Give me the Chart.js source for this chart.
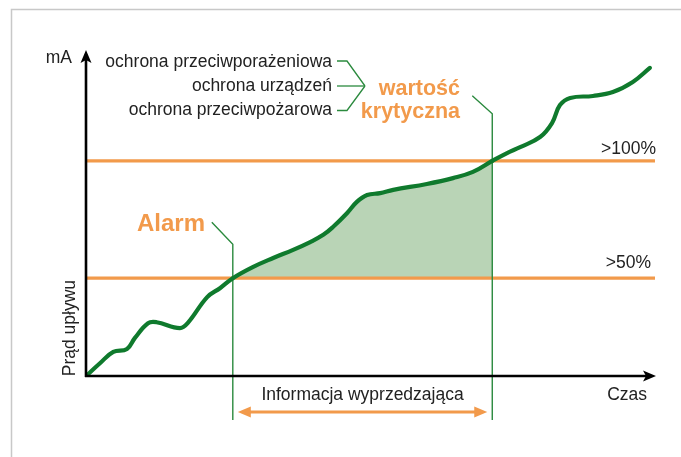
<!DOCTYPE html>
<html lang="pl">
<head>
<meta charset="utf-8">
<title>Prąd upływu</title>
<script src="https://cdn.jsdelivr.net/npm/chart.js@4/dist/chart.umd.min.js"></script>
<style>
  html, body { margin: 0; padding: 0; background: #ffffff; }
  #wrap { width: 681px; height: 457px; position: relative; }
</style>
</head>
<body>
<div id="wrap"><canvas id="chart" width="681" height="457"></canvas></div>
<script>
// Leakage current over time (arbitrary units: time 0–100, current 0–100)
const timeX = [0, 2.5, 4.8, 7.2, 8.6, 10.9, 12.4, 16.5, 17.9, 21.3, 23.6, 25.8,
  29.3, 32.9, 36.4, 39.4, 41.7, 43.4, 45.9, 47.6, 49.4, 51.7, 54.0, 59.9, 64.5,
  68.0, 71.4, 74.0, 76.3, 79.8, 81.9, 83.3, 85.1, 89.1, 92.6, 96.1, 99.1];
const currentY = [0, 4.0, 7.4, 8.3, 11.7, 16.2, 16.5, 14.7, 16.3, 24.2, 27.0, 30,
  33.4, 36.2, 38.7, 41.1, 43.3, 45.7, 50.0, 53.4, 55.5, 56.1, 57.1, 58.9, 60.7,
  62.6, 66, 68.4, 70.2, 73.3, 77.6, 83.1, 85.3, 85.9, 87.1, 90.2, 94.5];

// Threshold levels and the moments the current crosses them
const alarmLevel = 30;      // >50%
const criticalLevel = 66;   // >100%
const alarmX = 25.8;
const criticalX = 71.4;

const thresholdLabels = ['>50%', '>100%'];
const protectionLabels = ['ochrona przeciwporażeniowa', 'ochrona urządzeń', 'ochrona przeciwpożarowa'];

const curvePoints = timeX.map((x, i) => ({ x, y: currentY[i] }));

const GREEN = '#0f7a2d';
const GUIDE = '#2b8a3e';
const ORANGE = '#f29a4b';
const WARN_FILL = '#b9d4b6';
const TEXT = '#222222';
const FONT = "'Liberation Sans', Arial, sans-serif";

function arrowHead(ctx, tipX, tipY, angle, len, half, notch, color) {
  ctx.save();
  ctx.translate(tipX, tipY);
  ctx.rotate(angle);
  ctx.beginPath();
  ctx.moveTo(0, 0);
  ctx.lineTo(-len, -half);
  ctx.lineTo(-len + notch, 0);
  ctx.lineTo(-len, half);
  ctx.closePath();
  ctx.fillStyle = color;
  ctx.fill();
  ctx.restore();
}

function line(ctx, pts, color, width) {
  ctx.beginPath();
  ctx.moveTo(pts[0][0], pts[0][1]);
  for (let i = 1; i < pts.length; i++) ctx.lineTo(pts[i][0], pts[i][1]);
  ctx.strokeStyle = color;
  ctx.lineWidth = width;
  ctx.lineJoin = 'miter';
  ctx.lineCap = 'butt';
  ctx.stroke();
}

function text(ctx, str, x, y, align, font, color) {
  ctx.font = font;
  ctx.fillStyle = color;
  ctx.textAlign = align;
  ctx.textBaseline = 'alphabetic';
  ctx.fillText(str, x, y);
}

const diagramPlugin = {
  id: 'diagram',
  beforeDraw(chart) {
    const ctx = chart.ctx;
    ctx.save();
    ctx.strokeStyle = '#c8c8c8';
    ctx.lineWidth = 1.5;
    ctx.strokeRect(11.5, 9.5, 700, 480);
    ctx.restore();
  },
  beforeDatasetDraw(chart, args) {
    if (chart.data.datasets[args.index].label !== 'Prąd upływu') return;
    const ctx = chart.ctx;
    const xs = chart.scales.x, ys = chart.scales.y;
    const y0 = ys.getPixelForValue(0);
    const bottom = y0 + 44;
    ctx.save();
    // alarm marker
    const xa = xs.getPixelForValue(alarmX);
    const ta = ys.getPixelForValue(alarmLevel) - 34;
    line(ctx, [[xa - 21, ta - 22], [xa, ta], [xa, bottom]], GUIDE, 1.4);
    // critical value marker
    const xc = xs.getPixelForValue(criticalX);
    const tc = ys.getPixelForValue(criticalLevel) - 47;
    line(ctx, [[xc - 20, tc - 18], [xc, tc], [xc, bottom]], GUIDE, 1.4);
    ctx.restore();
  },
  afterDatasetsDraw(chart) {
    const ctx = chart.ctx;
    const xs = chart.scales.x, ys = chart.scales.y;
    const x0 = xs.getPixelForValue(0), y0 = ys.getPixelForValue(0);
    const xEnd = xs.getPixelForValue(100), yTop = ys.getPixelForValue(100);
    ctx.save();

    // axes with arrow heads
    line(ctx, [[x0, y0 + 1], [x0, yTop + 8]], '#000', 2.6);
    line(ctx, [[x0 - 1, y0], [xEnd - 8, y0]], '#000', 2.6);
    arrowHead(ctx, x0, yTop, -Math.PI / 2, 13, 5.5, 3, '#000');
    arrowHead(ctx, xEnd + 1, y0, 0, 13, 5.5, 3, '#000');

    const f = '17.5px ' + FONT;
    text(ctx, 'mA', x0 - 14, yTop + 13, 'right', f, TEXT);
    text(ctx, 'Czas', xEnd - 8, y0 + 24, 'right', f, TEXT);

    // rotated axis title
    ctx.save();
    ctx.translate(x0 - 11, (y0 + ys.getPixelForValue(alarmLevel)) / 2 + 1);
    ctx.rotate(-Math.PI / 2);
    text(ctx, 'Prąd upływu', 0, 0, 'center', f, TEXT);
    ctx.restore();

    // threshold labels
    text(ctx, thresholdLabels[1], xEnd + 1, ys.getPixelForValue(criticalLevel) - 7, 'right', f, TEXT);
    text(ctx, thresholdLabels[0], xEnd - 4, ys.getPixelForValue(alarmLevel) - 10, 'right', f, TEXT);

    // protection categories with bracket
    const rx = 332;
    const rows = [66.5, 91, 115];
    protectionLabels.forEach((s, i) => text(ctx, s, rx, rows[i], 'right', f, TEXT));
    const midY = 86, tip = 365;
    line(ctx, [[rx + 5, 61], [rx + 15, 61], [tip, midY]], GUIDE, 1.3);
    line(ctx, [[rx + 5, midY], [tip, midY]], GUIDE, 1.3);
    line(ctx, [[rx + 5, 110.5], [rx + 15, 110.5], [tip, midY]], GUIDE, 1.3);

    const fb = 'bold 21.5px ' + FONT;
    text(ctx, 'wartość', 460, 95, 'right', fb, ORANGE);
    text(ctx, 'krytyczna', 460, 118, 'right', fb, ORANGE);
    text(ctx, 'Alarm', 205, 231, 'right', 'bold 24px ' + FONT, ORANGE);

    // lead-time span between alarm and critical value
    const xa = xs.getPixelForValue(alarmX), xc = xs.getPixelForValue(criticalX);
    const ay = y0 + 36;
    line(ctx, [[xa + 12, ay], [xc - 12, ay]], ORANGE, 3);
    arrowHead(ctx, xa + 5, ay, Math.PI, 13, 5.5, 0, ORANGE);
    arrowHead(ctx, xc - 5, ay, 0, 13, 5.5, 0, ORANGE);
    text(ctx, 'Informacja wyprzedzająca', (xa + xc) / 2, y0 + 24, 'center', f, TEXT);

    ctx.restore();
  }
};

new Chart(document.getElementById('chart'), {
  type: 'line',
  data: {
    datasets: [
      {
        label: 'Prąd upływu',
        data: curvePoints,
        borderColor: GREEN,
        borderWidth: 4.2,
        borderCapStyle: 'round',
        pointRadius: 0,
        tension: 0.4,
        // shade the warning zone: between the alarm and critical crossings, down to the alarm level
        fill: { value: alarmLevel },
        backgroundColor: 'rgba(0,0,0,0)',
        segment: {
          backgroundColor: c =>
            (c.p0.parsed.x >= alarmX && c.p1.parsed.x <= criticalX) ? WARN_FILL : 'rgba(0,0,0,0)'
        },
        order: 0
      },
      {
        label: '>100%',
        data: [{ x: 0, y: criticalLevel }, { x: 100, y: criticalLevel }],
        borderColor: ORANGE,
        borderWidth: 3.2,
        pointRadius: 0,
        fill: false,
        order: 2
      },
      {
        label: '>50%',
        data: [{ x: 0, y: alarmLevel }, { x: 100, y: alarmLevel }],
        borderColor: ORANGE,
        borderWidth: 3.2,
        pointRadius: 0,
        fill: false,
        order: 3
      }
    ]
  },
  options: {
    responsive: false,
    animation: false,
    events: [],
    layout: { padding: { left: 86, right: 26, top: 50, bottom: 81 } },
    scales: {
      x: { type: 'linear', min: 0, max: 100, display: false },
      y: { type: 'linear', min: 0, max: 100, display: false }
    },
    plugins: {
      legend: { display: false },
      tooltip: { enabled: false },
      filler: { propagate: false, drawTime: 'beforeDatasetsDraw' }
    }
  },
  plugins: [diagramPlugin]
});
</script>
</body>
</html>
